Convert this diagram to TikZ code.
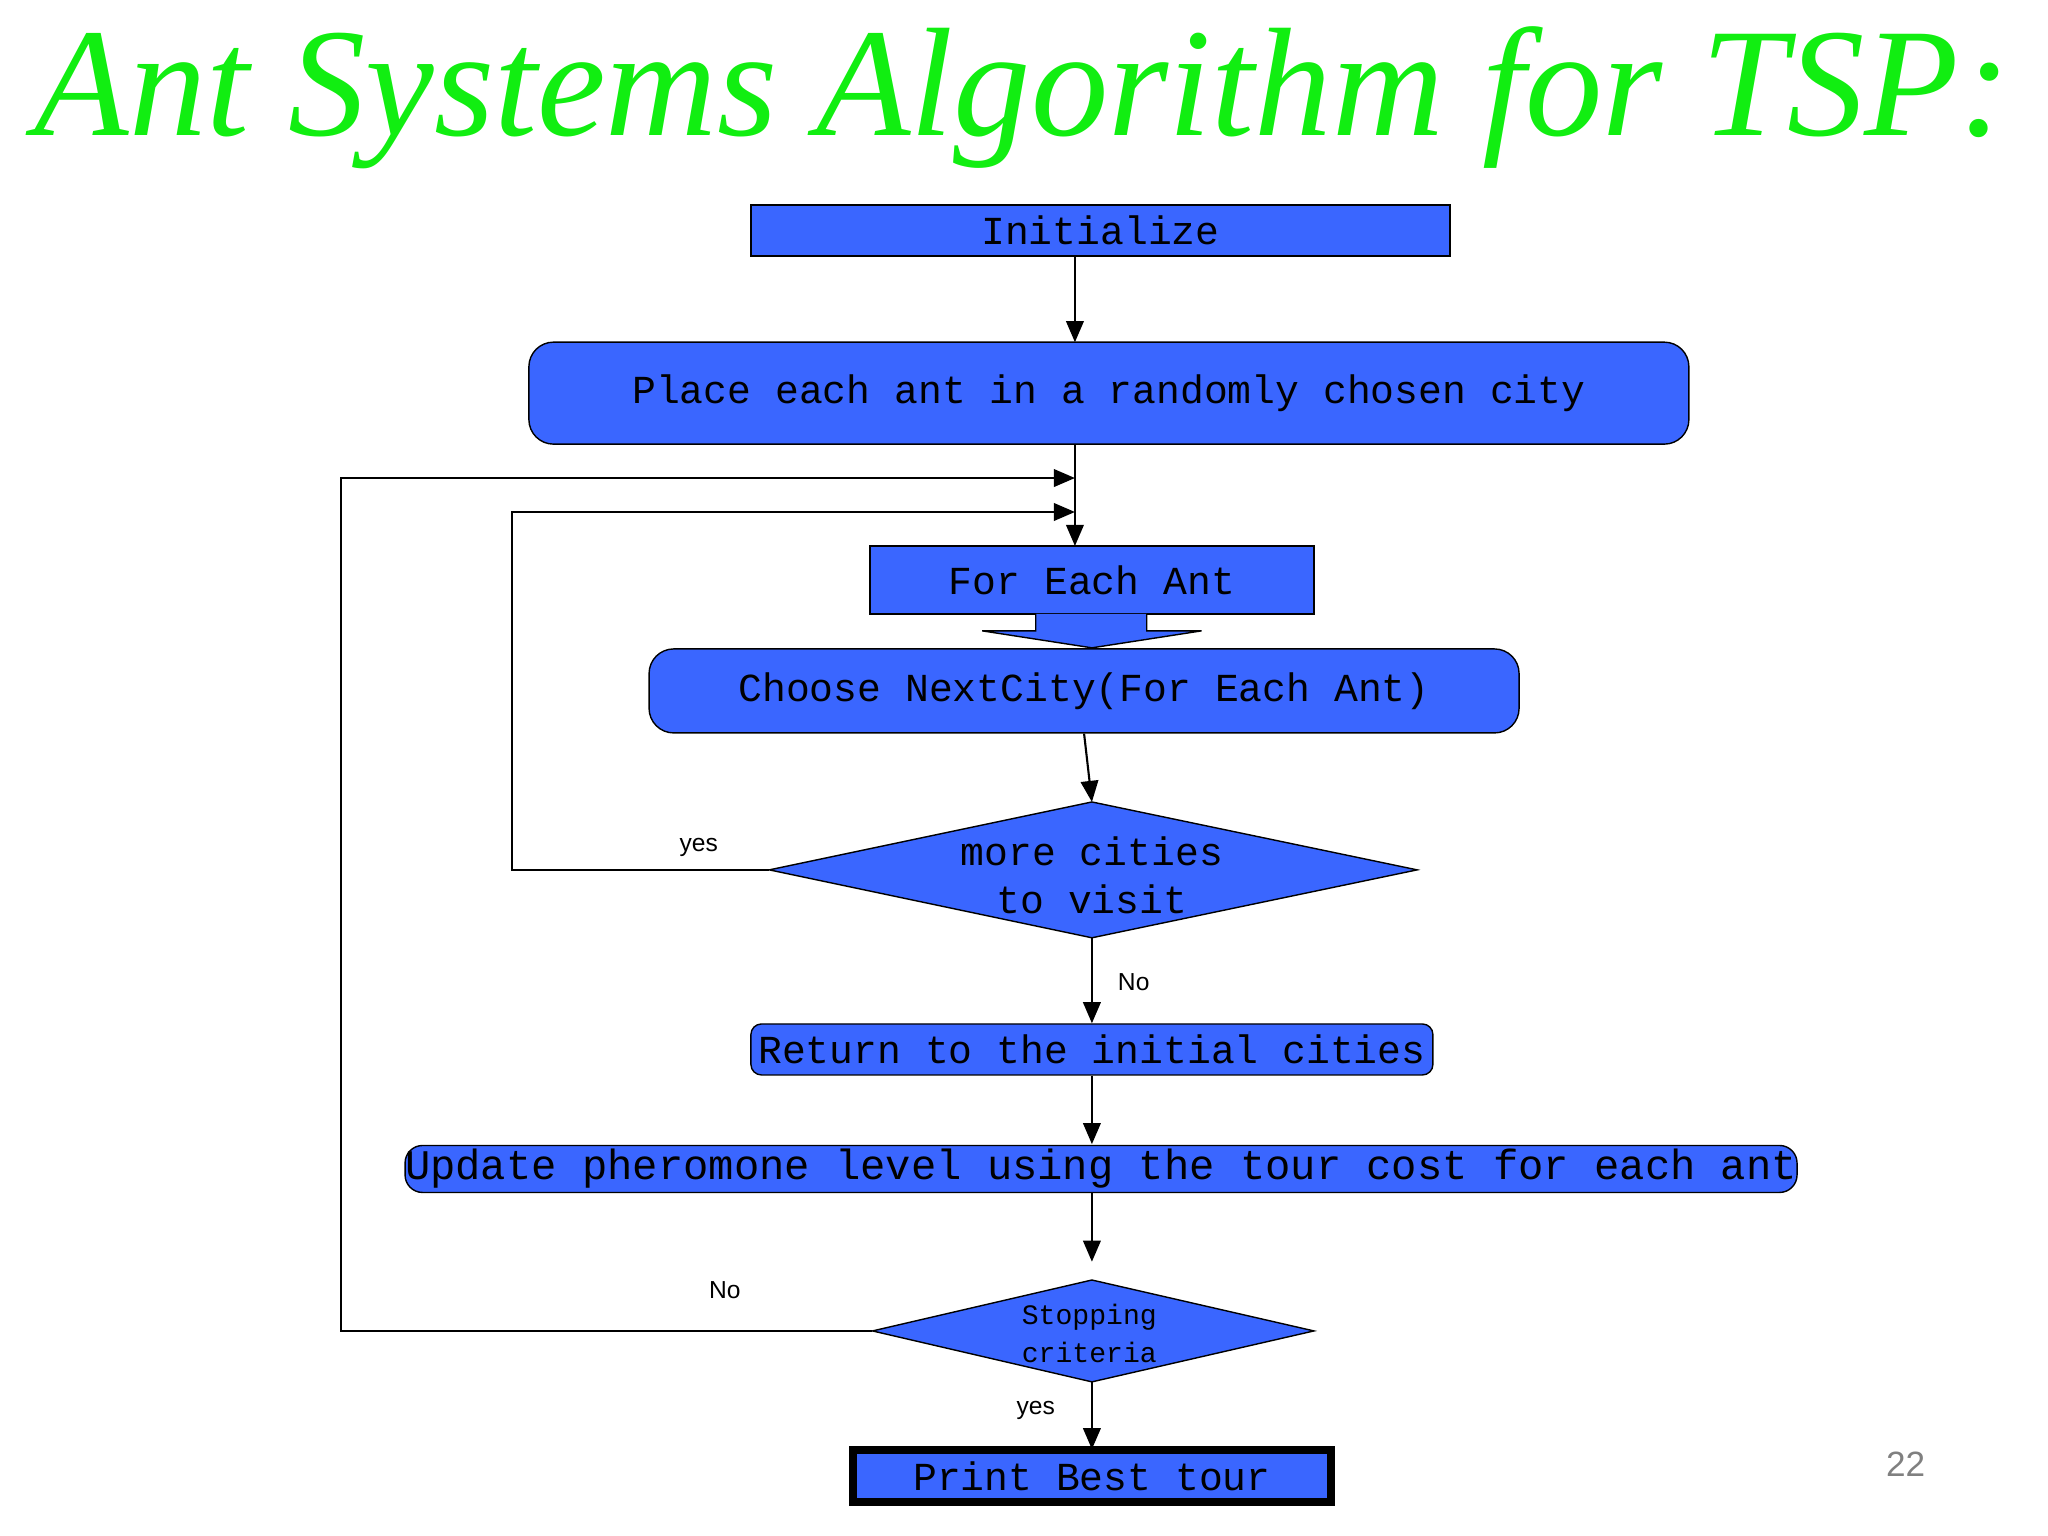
\documentclass[tikz,border=0pt]{standalone}
\usepackage{fontspec}
\setmainfont{Liberation Serif}
\newfontfamily\mono{Liberation Mono}
\newfontfamily\sans{Liberation Sans}
\usetikzlibrary{arrows.meta}
\definecolor{bx}{HTML}{3A66FF}
\definecolor{ttl}{HTML}{11EE11}
\begin{document}
\begin{tikzpicture}[x=0.01306cm,y=-0.01306cm,
  box/.style={draw=black,fill=bx,inner sep=0pt,font=\mono\fontsize{11.3}{13}\selectfont},
  tape/.style={box,rounded corners=7pt},
  lab/.style={font=\sans\fontsize{7}{8}\selectfont},
  arr/.style={-{Triangle[length=6pt,width=5pt]}},
  ln/.style={line width=0.6pt}]
\useasboundingbox (0,0) rectangle (1568,1176);
\node[font=\itshape\fontsize{44}{50}\selectfont,text=ttl] (title) at (783,75) {Ant Systems Algorithm for TSP:};
\node[box,minimum width=6.99cm,minimum height=0.51cm] (init) at (842.5,176.5) {Initialize};
\node[tape,minimum width=11.6cm,minimum height=1.02cm] (place) at (849,301) {Place each ant in a randomly chosen city};
\node[box,minimum width=4.44cm,minimum height=0.68cm] (each) at (836,444) {For Each Ant};
\fill[bx,draw=black] (793,470)--(793,483)--(752,483)--(836,496)--(920,483)--(878,483)--(878,470);
\node[tape,minimum width=8.70cm,minimum height=0.84cm] (choose) at (830,529) {Choose NextCity(For Each Ant)};
\coordinate (d1t) at (836,614); \coordinate (d1b) at (836,718);
\coordinate (d1l) at (589,666); \coordinate (d1r) at (1085,666);
\draw[fill=bx] (d1t)--(d1r)--(d1b)--(d1l)--cycle;
\node[font=\mono\fontsize{11.3}{13.5}\selectfont,align=center] (d1) at (836,670) {more cities\\ to visit};
\node[box,rounded corners=3pt,minimum width=6.82cm,minimum height=0.51cm] (ret) at (836,803.5) {Return to the initial cities};
\node[tape,rounded corners=5pt,minimum width=13.48cm,minimum height=0.47cm,font=\mono\fontsize{12}{13}\selectfont] (upd) at (843,895) {Update pheromone level using the tour cost for each ant};
\coordinate (d2t) at (836,980); \coordinate (d2b) at (836,1058);
\coordinate (d2l) at (668,1019); \coordinate (d2r) at (1006,1019);
\draw[fill=bx] (d2t)--(d2r)--(d2b)--(d2l)--cycle;
\node[font=\mono\fontsize{8}{11}\selectfont,align=center] (d2) at (834,1021) {Stopping\\criteria};
\node[box,double=black,double distance=1.5pt,draw=black,minimum width=4.78cm,minimum height=0.52cm] (print) at (836,1130) {Print Best tour};
% connectors
\coordinate (j1) at (823,366); \coordinate (j2) at (823,392); \coordinate (j3) at (823,418);
\draw[ln,arr] (823,196) -- (823,262);
\draw[ln,arr] (823,340) -- (j3);
\draw[ln,arr] (choose.south) -- (d1t);
\draw[ln,arr] (d1b) -- (ret.north);
\draw[ln,arr] (ret.south) -- (836,876);
\draw[ln,arr] (836,913) -- (836,966);
\draw[ln,arr] (d2b) -- (print.north);
\draw[ln,arr] (d1l) -- (392,666) -- (392,392) -- (j2);
\draw[ln,arr] (d2l) -- (261,1019) -- (261,366) -- (j1);
\node[lab] (y1) at (535,649) {yes};
\node[lab] (n1) at (868,752) {No};
\node[lab] (n2) at (555,988) {No};
\node[lab] (y2) at (793,1080) {yes};
\node[font=\sans\fontsize{10}{12}\selectfont,text=gray] (pg) at (1459,1121) {22};
\end{tikzpicture}
\end{document}
